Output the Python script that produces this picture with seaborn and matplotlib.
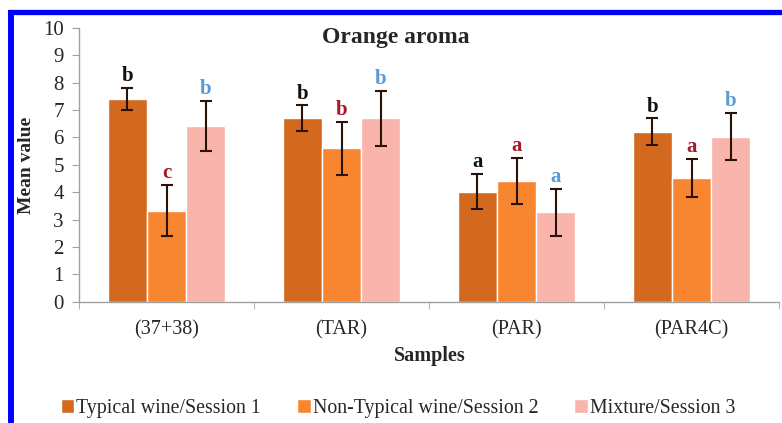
import numpy as np
import pandas as pd
import seaborn as sns
import matplotlib
matplotlib.use("Agg")
import matplotlib.pyplot as plt
from matplotlib.lines import Line2D

samples = ["(37+38)", "(TAR)", "(PAR)", "(PAR4C)"]
sessions = ["Typical wine/Session 1", "Non-Typical wine/Session 2", "Mixture/Session 3"]
typical = [7.41, 6.70, 4.02, 6.21]
nontypical = [3.33, 5.60, 4.41, 4.51]
mixture = [6.42, 6.70, 3.27, 6.03]
err_typical = [0.41, 0.47, 0.65, 0.49]
err_nontypical = [0.93, 0.97, 0.84, 0.70]
err_mixture = [0.93, 1.00, 0.86, 0.87]
letters_typical = ["b", "b", "a", "b"]
letters_nontypical = ["c", "b", "a", "a"]
letters_mixture = ["b", "b", "a", "b"]

colors = ["#d2691e", "#f88530", "#f9b4ab"]
letter_colors = ["#111111", "#a8182a", "#5b9bd5"]

vals = [typical, nontypical, mixture]
errs = [err_typical, err_nontypical, err_mixture]
lets = [letters_typical, letters_nontypical, letters_mixture]

df = pd.DataFrame({
    "Samples": samples * 3,
    "Session": [s for s in sessions for _ in samples],
    "Mean value": typical + nontypical + mixture,
})

sns.set_style("white")
plt.rcParams["font.family"] = ["Liberation Serif", "DejaVu Serif"]

fig = plt.figure(figsize=(7.82, 4.23), dpi=100)
ax = fig.add_axes([79/782, 1 - 301.7/423, (779-79)/782, (301.7-28)/423])

sns.barplot(data=df, x="Samples", y="Mean value", hue="Session",
            hue_order=sessions, order=samples, palette=colors,
            width=0.67, saturation=1, errorbar=None, ax=ax, legend=True)

nb = len(samples)
for h in range(3):
    for i in range(nb):
        p = ax.patches[h * nb + i]
        cx = p.get_x() + p.get_width() / 2
        v = vals[h][i]
        e = errs[h][i]
        ax.errorbar(cx, v, yerr=e, fmt="none", ecolor="#2a1208",
                    elinewidth=1.5, capsize=4, capthick=1.5)
        ax.text(cx, v + e + 0.06, lets[h][i], ha="center", va="bottom",
                fontsize=15, fontweight="bold", color=letter_colors[h])

ax.set_ylim(0, 10)
ax.set_xlim(-0.5, nb - 0.5)
ax.set_yticks(range(0, 11))
ax.tick_params(axis="y", labelsize=15, length=5, color="#a0a0a0", left=True, pad=6)
ax.set_xticks(range(nb))
ax.set_xticklabels(samples)
ax.set_xticks(np.arange(-0.5, nb, 1.0), minor=True)
ax.tick_params(axis="x", which="major", length=0, labelsize=14.5, pad=13)
ax.tick_params(axis="x", which="minor", length=5, color="#a0a0a0", bottom=True)
for s in ["top", "right"]:
    ax.spines[s].set_visible(False)
for s in ["left", "bottom"]:
    ax.spines[s].set_color("#a0a0a0")
    ax.spines[s].set_linewidth(1.0)

ax.set_xlabel("")
ax.set_ylabel("")
fig.text(430/782, 1 - 356/423, "Samples", ha="center", va="center",
         fontsize=14.5, fontweight="bold")
fig.text(27/782, 1 - 165/423, "Mean value", ha="center", va="center",
         rotation=90, fontsize=14, fontweight="bold")
fig.text(396/782, 1 - 38/423, "Orange aroma", ha="center", va="center",
         fontsize=17, fontweight="bold")

leg = ax.get_legend()
handles = leg.legend_handles
leg.remove()
fig.legend(handles, sessions, loc="center", bbox_to_anchor=(398/782, 1 - 408/423),
           ncol=3, frameon=False, fontsize=14.3, handlelength=0.7, handleheight=0.7,
           handletextpad=0.1, columnspacing=1.8)

fig.add_artist(Line2D([8/782, 1.0], [1 - 12.5/423, 1 - 12.5/423], color="#0000ff",
                      linewidth=3.8, solid_capstyle="butt"))
fig.add_artist(Line2D([11/782, 11/782], [0, 1 - 10/423], color="#0000ff",
                      linewidth=4.3, solid_capstyle="butt"))

fig.savefig("out.png", dpi=100)
